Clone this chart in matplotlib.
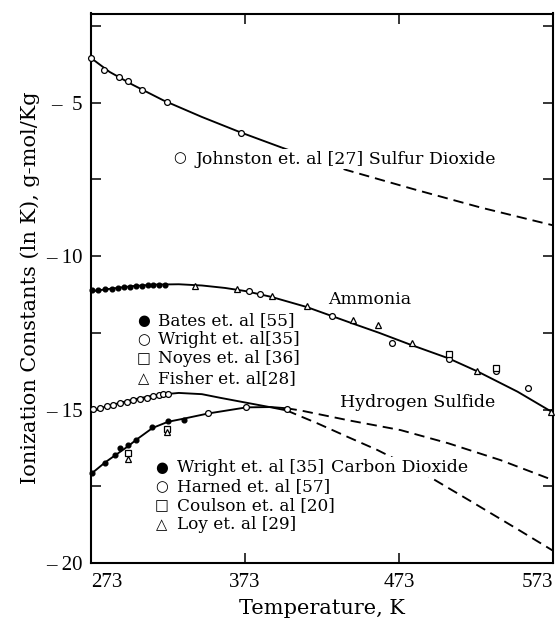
import numpy as np
import matplotlib
matplotlib.use("Agg")
import matplotlib.pyplot as plt

plt.rcParams['font.family'] = ['Liberation Serif', 'DejaVu Sans']

# ---------------- data ----------------
# Sulfur dioxide
so2_pts_T = [273, 281.5, 291.2, 297.3, 306.4, 322.2, 370.4]
so2_pts_lnK = [-3.55, -3.95, -4.17, -4.29, -4.60, -4.98, -5.98]
so2_curve_T = [273, 285, 300, 320, 345, 370, 397, 420, 439, 483, 526, 573]
so2_curve_lnK = [-3.55, -4.0, -4.42, -4.93, -5.47, -5.97, -6.47, -6.88, -7.2, -7.83, -8.42, -9.0]
so2_solid_until = 397

# Ammonia
nh3_bates_T = [273.4, 277.7, 282.1, 286.5, 290.8, 294.7, 298.4, 302.1, 306.0, 309.9, 313.5, 317.2, 321.1]
nh3_bates_lnK = [-11.12, -11.11, -11.09, -11.06, -11.04, -11.02, -11.0, -10.98, -10.97, -10.96, -10.95, -10.94, -10.93]
nh3_wright_T = [375.4, 383.0, 429.2, 468.2, 505.5, 535.8, 556.5]
nh3_wright_lnK = [-11.15, -11.25, -11.97, -12.83, -13.34, -13.76, -14.3]
nh3_noyes_T = [505.5, 535.8]
nh3_noyes_lnK = [-13.18, -13.66]
nh3_fisher_T = [340.7, 367.8, 390.6, 413.4, 443.3, 459.5, 481.2, 523.9, 572.0]
nh3_fisher_lnK = [-10.98, -11.06, -11.3, -11.63, -12.1, -12.24, -12.83, -13.76, -15.07]
nh3_curve_T = [273, 285, 300, 315, 330, 345, 360, 373, 390, 413, 443, 460, 480, 505, 524, 550, 573]
nh3_curve_lnK = [-11.15, -11.07, -10.98, -10.93, -10.92, -10.96, -11.04, -11.14, -11.33, -11.66,
                 -12.2, -12.5, -12.88, -13.33, -13.76, -14.42, -15.1]

# Carbon dioxide / hydrogen sulfide data points
co2_wright_T = [273.4, 282.2, 288.6, 291.9, 297.3, 302.3, 312.9, 322.9, 333.1]
co2_wright_lnK = [-17.08, -16.73, -16.48, -16.27, -16.16, -15.98, -15.58, -15.38, -15.33]
co2_harned_T = [274.5, 278.9, 283.2, 287.5, 291.9, 296.2, 300.5, 304.9, 309.2, 313.5, 317.2, 320.0, 322.9,
                348.7, 373.8, 400.3]
co2_harned_lnK = [-14.97, -14.94, -14.89, -14.84, -14.78, -14.75, -14.70, -14.65, -14.61, -14.57, -14.54,
                  -14.50, -14.48, -15.13, -14.91, -14.98]
co2_coulson_T = [297.3, 322.2]
co2_coulson_lnK = [-16.41, -15.62]
co2_loy_T = [297.3, 322.2]
co2_loy_lnK = [-16.6, -15.74]

# Upper-left curve (steep decline at high T)
curveA_T = [273, 285, 300, 315, 330, 345, 357, 374, 390, 400, 409, 420, 440, 459, 489, 520, 550, 573]
curveA_lnK = [-15.05, -14.87, -14.68, -14.53, -14.46, -14.5, -14.62, -14.78, -14.93, -15.03, -15.22,
              -15.45, -15.9, -16.32, -17.08, -18.0, -18.9, -19.6]
# Lower-left curve (gentle decline at high T)
curveB_T = [273, 282, 289, 297, 302, 313, 323, 333, 349, 374, 390, 400, 409, 440, 474, 505, 539, 573]
curveB_lnK = [-17.1, -16.73, -16.48, -16.2, -16.0, -15.6, -15.4, -15.3, -15.13, -14.93, -14.92, -14.96,
              -15.03, -15.35, -15.67, -16.1, -16.65, -17.3]
curves_solid_until = 400

x_ticks = [273, 373, 473, 573]
y_major = [-20, -15, -10, -5]
y_minor = [-17.5, -12.5, -7.5, -2.5]
y_labels = ['– 20', '– 15', '– 10', '–  5']

# ---------------- figure ----------------
fig = plt.figure(figsize=(5.55, 6.2), dpi=100)
ax = fig.add_axes([91 / 555, 1 - 563 / 620, (553 - 91) / 555, (563 - 13.5) / 620])
ax.set_xlim(273, 573)
ax.set_ylim(-20, -2.1)

dash = (0, (5.5, 3.2))
lw = 1.35


def split_curve(T, v, until):
    T = np.asarray(T, float)
    v = np.asarray(v, float)
    s = T <= until
    d = T >= until
    return (T[s], v[s]), (T[d], v[d])


for T, v, until in [(so2_curve_T, so2_curve_lnK, so2_solid_until),
                    (curveA_T, curveA_lnK, curves_solid_until),
                    (curveB_T, curveB_lnK, curves_solid_until)]:
    (ts, vs), (td, vd) = split_curve(T, v, until)
    ax.plot(ts, vs, color='black', lw=lw, solid_capstyle='butt', zorder=2)
    ax.plot(td, vd, color='black', lw=lw, linestyle=dash, zorder=2)

ax.plot(nh3_curve_T, nh3_curve_lnK, color='black', lw=lw, zorder=2)

open_kw = dict(linestyle='none', mfc='white', mec='black', mew=0.9, zorder=4, clip_on=False)
fill_kw = dict(linestyle='none', mfc='black', mec='black', zorder=4, clip_on=False)

ax.plot(so2_pts_T, so2_pts_lnK, marker='o', ms=4.2, **open_kw)
ax.plot(nh3_bates_T, nh3_bates_lnK, marker='o', ms=3.4, **fill_kw)
ax.plot(nh3_wright_T, nh3_wright_lnK, marker='o', ms=4.2, **open_kw)
ax.plot(nh3_noyes_T, nh3_noyes_lnK, marker='s', ms=4.0, **open_kw)
ax.plot(nh3_fisher_T, nh3_fisher_lnK, marker='^', ms=4.8, **open_kw)
ax.plot(co2_wright_T, co2_wright_lnK, marker='o', ms=3.4, **fill_kw)
ax.plot(co2_harned_T, co2_harned_lnK, marker='o', ms=4.2, **open_kw)
ax.plot(co2_coulson_T, co2_coulson_lnK, marker='s', ms=4.0, **open_kw)
ax.plot(co2_loy_T, co2_loy_lnK, marker='^', ms=4.6, **open_kw)

# ---------------- annotations ----------------
txt_fs = 12.2
txt_family = ['DejaVu Serif']
sym_family = ['DejaVu Sans']
wbox = dict(facecolor='white', edgecolor='none', pad=1.0)


def note(x, y, s, fs=txt_fs, **kw):
    ax.text(x, y, s, fontsize=fs, family=txt_family, ha='left', va='center', zorder=5, **kw)


def sym(x, y, s):
    ax.text(x, y, s, fontsize=10.5, family=sym_family, ha='center', va='center', zorder=5)


sym(330.3, -6.8, '○')
note(340.7, -6.84, 'Johnston et. al [27] Sulfur Dioxide', fs=12.5, bbox=wbox)

note(427.2, -11.42, 'Ammonia', fs=12.5)
nh3_leg = [('●', 'Bates et. al [55]'), ('○', 'Wright et. al[35]'),
           ('□', 'Noyes et. al [36]'), ('△', 'Fisher et. al[28]')]
for (sm, lab), yy in zip(nh3_leg, [-12.10, -12.72, -13.35, -14.0]):
    sym(307, yy, sm)
    note(316.8, yy, lab)

note(435, -14.78, 'Hydrogen Sulfide', fs=12.5)

co2_leg = [('●', 'Wright et. al [35]'), ('○', 'Harned et. al [57]'),
           ('□', 'Coulson et. al [20]'), ('△', 'Loy et. al [29]')]
for (sm, lab), yy in zip(co2_leg, [-16.90, -17.50, -18.13, -18.75]):
    sym(319, yy, sm)
    note(328.7, yy, lab)
note(429.0, -16.88, 'Carbon Dioxide', fs=12.5, bbox=wbox)

# ---------------- axes styling ----------------
for s in ax.spines.values():
    s.set_linewidth(1.5)

ax.set_xticks(x_ticks)
ax.set_xticklabels([str(t) for t in x_ticks])
ax.set_yticks(y_major)
ax.set_yticklabels(y_labels)
ax.set_yticks(y_minor, minor=True)
ax.tick_params(axis='both', which='both', direction='in', length=7, width=1.1,
               top=True, right=True, labelsize=15)
ax.tick_params(axis='x', pad=7)
ax.tick_params(axis='y', pad=6)
xl = ax.get_xticklabels()
xl[0].set_horizontalalignment('left')
xl[-1].set_horizontalalignment('right')

ax.set_xlabel('Temperature, K', fontsize=15, family=txt_family, labelpad=5)
ax.set_ylabel('Ionization Constants (ln K), g-mol/Kg', fontsize=15, family=txt_family, labelpad=4)

fig.savefig('out.png', dpi=100)
